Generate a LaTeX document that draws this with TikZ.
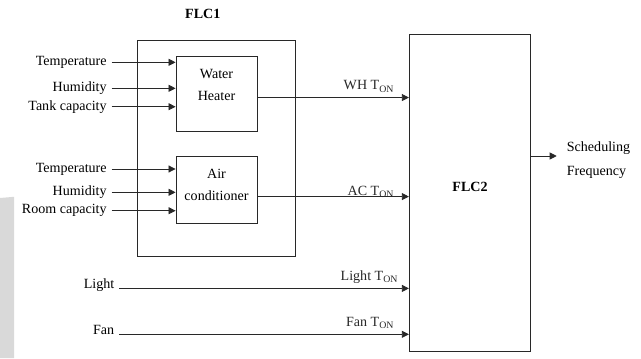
\documentclass[tikz,border=0pt]{standalone}
\usepackage{fontspec}
\setmainfont{Liberation Serif}
\usetikzlibrary{arrows.meta,positioning}
\definecolor{linegray}{RGB}{40,40,40}
\definecolor{bandgray}{RGB}{217,217,217}

\begin{document}
\begin{tikzpicture}[font=\fontsize{10}{12}\selectfont, node distance=1cm,
  blk/.style={draw=linegray, line width=0.6pt},
  arr/.style={-{Triangle[length=5pt,width=5pt]}, line width=0.6pt, linegray},
  twoline/.style={align=center, font=\fontsize{10}{15.7}\selectfont},
  tonlbl/.style={anchor=base east, xshift=-0.24cm, yshift=0.19cm}]
  \useasboundingbox (0,0) rectangle (16.025,-8.95);
  \fill[bandgray] (0,-4.95) -- (0.35,-4.92) -- (0.35,-8.95) -- (0,-8.95) -- cycle;
  % FLC1 and its two blocks
  \node[blk, minimum width=3.95cm, minimum height=5.39cm] (flcone) at (5.4,-3.706) {};
  \node[font=\bfseries, above=0.4cm of flcone, xshift=-0.33cm] (flconelbl) {FLC1};
  \node[blk, minimum width=2.025cm, minimum height=1.875cm, below right=0.39cm and 0.975cm of flcone.north west] (wh) {};
  \node[twoline] (whtxt) at ([yshift=0.22cm]wh.center) {Water\\Heater};
  \node[blk, minimum width=2.025cm, minimum height=1.675cm, below=0.62cm of wh] (ac) {};
  \node[twoline] (actxt) at ([yshift=0.125cm]ac.center) {Air\\conditioner};
  % FLC2
  \node[blk, minimum width=3.035cm, minimum height=7.92cm] (flctwo) at (11.75,-4.816) {};
  \node[font=\bfseries] (flctwolbl) at ([yshift=0.15cm]flctwo.center) {FLC2};
  % inputs
  \foreach \n/\t/\y in {whtemp/Temperature/1.558, whhum/Humidity/2.208, whtank/Tank capacity/2.668}{
    \node[anchor=east] (\n) at (2.79,-\y) {\t};
    \draw[arr] (\n.east) -- (\n.east -| wh.west);
  }
  \foreach \n/\t/\y in {actemp/Temperature/4.225, achum/Humidity/4.808, acroom/Room capacity/5.268}{
    \node[anchor=east] (\n) at (2.79,-\y) {\t};
    \draw[arr] (\n.east) -- (\n.east -| ac.west);
  }
  \node[anchor=base east] (light) at (2.98,-7.21) {Light};
  \node[anchor=base east] (fan) at (2.98,-8.358) {Fan};
  % outputs into FLC2
  \coordinate (whout) at ([yshift=-0.1cm]wh.east);
  \coordinate (acout) at ([yshift=-0.16cm]ac.east);
  \draw[arr] (whout) -- (whout -| flctwo.west) node[pos=1, tonlbl] (whton) {WH T\textsubscript{ON}};
  \draw[arr] (acout) -- (acout -| flctwo.west) node[pos=1, tonlbl, yshift=-0.17cm] (acton) {AC T\textsubscript{ON}};
  \draw[arr] (light.base east) -- (light.base east -| flctwo.west) node[pos=1, tonlbl, xshift=0.1cm] (lightton) {Light T\textsubscript{ON}};
  \draw[arr] (fan.base east) -- (fan.base east -| flctwo.west) node[pos=1, tonlbl] (fanton) {Fan T\textsubscript{ON}};
  % result
  \coordinate (flctwoout) at ([yshift=0.916cm]flctwo.east);
  \node[anchor=west, align=left, font=\fontsize{10}{16.8}\selectfont, right=0.77cm of flctwoout, yshift=-0.1cm] (sched) {Scheduling\\Frequency};
  \draw[arr, shorten >=0.13cm] (flctwoout) -- (flctwoout -| sched.west);
\end{tikzpicture}
\end{document}
